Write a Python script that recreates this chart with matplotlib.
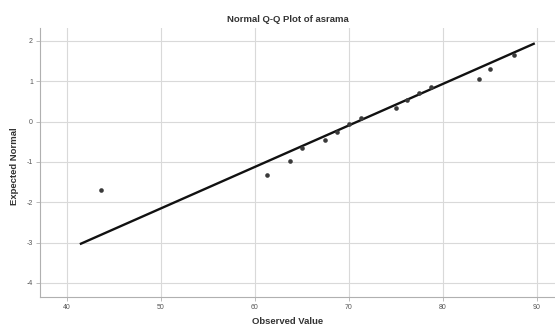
import matplotlib
matplotlib.use("Agg")
import matplotlib.pyplot as plt
import numpy as np

plt.rcParams['font.family'] = ['Liberation Sans', 'DejaVu Sans']

observed = [43.7, 61.3, 63.8, 65.0, 67.5, 68.8, 70.0, 71.3, 75.0, 76.2, 77.5, 78.8, 83.9, 85.0, 87.6]
expected = [-1.69, -1.32, -0.98, -0.65, -0.45, -0.27, -0.06, 0.09, 0.34, 0.54, 0.70, 0.85, 1.05, 1.31, 1.66]
line_x = [41.4, 89.8]
line_y = [-3.04, 1.94]
x_ticks = [40, 50, 60, 70, 80, 90]
y_ticks = [2, 1, 0, -1, -2, -3, -4]

fig = plt.figure(figsize=(5.55, 3.29), dpi=100)
W, H = 555, 329
left, right, top, bottom = 40, 555, 28, 297
ax = fig.add_axes([left / W, 1 - bottom / H, (right - left) / W, (bottom - top) / H])

ax.set_xlim(37.16, 91.95)
ax.set_ylim(-4.35, 2.32)
ax.set_xticks(x_ticks)
ax.set_yticks(y_ticks)
ax.set_xticklabels([str(v) for v in x_ticks])
ax.set_yticklabels([str(v) for v in y_ticks])
ax.grid(True, color='#d9d9d9', linewidth=0.8)
ax.set_axisbelow(True)
for s in ['top', 'right']:
    ax.spines[s].set_visible(False)
for s in ['left', 'bottom']:
    ax.spines[s].set_color('#b0b0b0')
    ax.spines[s].set_linewidth(0.8)
ax.tick_params(axis='both', labelsize=5, colors='#555555', length=3, width=0.6, pad=2)
ax.tick_params(axis='both', color='#b0b0b0')

ax.plot(line_x, line_y, color='#111111', linewidth=1.7, solid_capstyle='butt', zorder=3)
ax.scatter(observed, expected, s=11, color='#3a3a3a', zorder=4, linewidths=0)

fig.text(288 / W, 1 - 19 / H, 'Normal Q-Q Plot of asrama', ha='center', va='center',
         fontsize=6.8, fontweight='bold', color='#333333')
fig.text(288 / W, 1 - 322 / H, 'Observed Value', ha='center', va='center',
         fontsize=6.8, fontweight='bold', color='#333333')
fig.text(15 / W, 1 - 166 / H, 'Expected Normal', ha='center', va='center', rotation=90,
         fontsize=6.8, fontweight='bold', color='#333333')

fig.savefig('out.png', dpi=100)
